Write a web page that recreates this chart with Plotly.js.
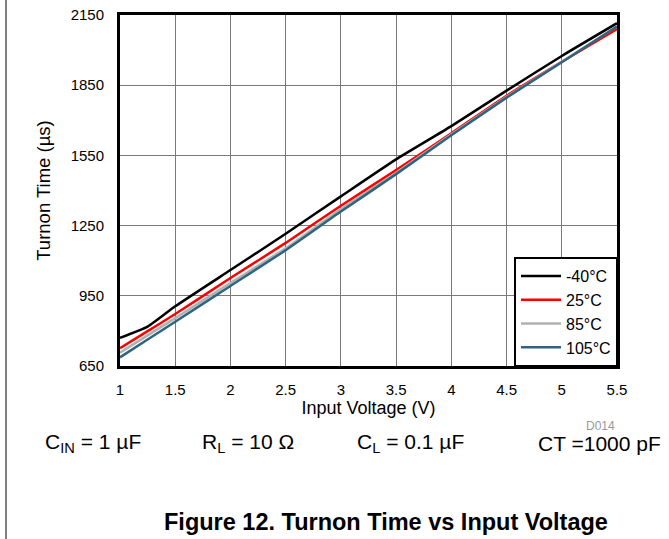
<!DOCTYPE html>
<html>
<head>
<meta charset="utf-8">
<script src="https://cdn.plot.ly/plotly-3.0.1.min.js"></script>
<style>html,body{margin:0;padding:0;background:#fff;}#chart{width:669px;height:539px;}</style>
</head>
<body>
<div id="chart"></div>
<script>
// Input voltage (V)
const voltage = [1, 1.25, 1.5, 2, 2.5, 3, 3.5, 4, 4.5, 5, 5.5];
// Turnon time (µs) per temperature
const tMinus40 = [770, 818, 905, 1060, 1215, 1375, 1533, 1675, 1827, 1975, 2115];
const t25      = [726, 799, 872, 1026, 1176, 1335, 1487, 1645, 1805, 1950, 2090];
const t85      = [707, 781, 854, 1005, 1153, 1320, 1476, 1640, 1800, 1950, 2102];
const t105     = [687, 763, 839, 992, 1145, 1310, 1470, 1636, 1797, 1948, 2101];
const seriesNames = ['-40°C', '25°C', '85°C', '105°C'];
const seriesColors = ['#000000', '#ff0000', '#b0b0b0', '#2e6480'];
const xTicks = [1, 1.5, 2, 2.5, 3, 3.5, 4, 4.5, 5, 5.5];
const yTicks = [650, 950, 1250, 1550, 1850, 2150];

const F = 'Liberation Sans, Arial, sans-serif';
const seriesData = [tMinus40, t25, t85, t105];
const traces = seriesData.map((ys, i) => ({
  x: voltage, y: ys, type: 'scatter', mode: 'lines', name: seriesNames[i],
  line: {color: seriesColors[i], width: 2.5, shape: 'spline', smoothing: 0.5}
}));

const W = 669, H = 539, L = 120, R = 52, T = 15, B = 173;
const pw = W - L - R, ph = H - T - B;
const px = v => (v - L) / pw;
const py = v => (H - B - v) / ph;

const layout = {
  width: W, height: H,
  margin: {l: L, r: R, t: T, b: B},
  paper_bgcolor: '#fff', plot_bgcolor: '#fff',
  font: {family: F, color: '#000', size: 15},
  showlegend: true,
  legend: {
    x: px(618), y: py(367), xanchor: 'right', yanchor: 'bottom',
    bgcolor: '#fff', bordercolor: '#000', borderwidth: 2,
    font: {family: F, size: 16, color: '#000'},
    itemwidth: 40, tracegroupgap: 0
  },
  xaxis: {
    range: [1, 5.5], tickvals: xTicks, ticktext: xTicks.map(String),
    showgrid: true, gridcolor: '#7a7a7a', gridwidth: 1,
    showline: true, linecolor: '#000', linewidth: 3, mirror: true,
    ticks: '', ticklabelstandoff: 8, zeroline: false,
    tickfont: {family: F, size: 15},
    title: {text: 'Input Voltage (V)', font: {family: F, size: 18}, standoff: 2}
  },
  yaxis: {
    range: [650, 2150], tickvals: yTicks, ticktext: yTicks.map(String),
    showgrid: true, gridcolor: '#7a7a7a', gridwidth: 1,
    showline: true, linecolor: '#000', linewidth: 3, mirror: true,
    ticks: '', ticklabelstandoff: 10, zeroline: false,
    tickfont: {family: F, size: 15},
    title: {text: 'Turnon Time (µs)', font: {family: F, size: 18.5}, standoff: 16}
  },
  shapes: [
    {type: 'line', xref: 'paper', yref: 'paper', x0: px(6), x1: px(6), y0: py(0), y1: py(H),
     line: {color: '#555', width: 1.5}}
  ],
  annotations: [
    {text: 'D014', xref: 'paper', yref: 'paper', x: px(617), y: py(426), xanchor: 'right', yanchor: 'middle',
     showarrow: false, font: {family: F, size: 12, color: '#999'}},
    {text: 'C<sub>IN</sub> = 1 µF', xref: 'paper', yref: 'paper', x: px(43), y: py(443), xanchor: 'left', yanchor: 'middle',
     showarrow: false, font: {family: F, size: 21}},
    {text: 'R<sub>L</sub> = 10 Ω', xref: 'paper', yref: 'paper', x: px(200), y: py(443), xanchor: 'left', yanchor: 'middle',
     showarrow: false, font: {family: F, size: 21}},
    {text: 'C<sub>L</sub> = 0.1 µF', xref: 'paper', yref: 'paper', x: px(355), y: py(443), xanchor: 'left', yanchor: 'middle',
     showarrow: false, font: {family: F, size: 21}},
    {text: 'CT =1000 pF', xref: 'paper', yref: 'paper', x: px(663), y: py(443), xanchor: 'right', yanchor: 'middle',
     showarrow: false, font: {family: F, size: 21}},
    {text: '<b>Figure 12. Turnon Time vs Input Voltage</b>', xref: 'paper', yref: 'paper', x: px(386), y: py(522),
     xanchor: 'center', yanchor: 'middle', showarrow: false, font: {family: F, size: 23.5}}
  ]
};

Plotly.newPlot('chart', traces, layout, {displayModeBar: false, staticPlot: true});
</script>
</body>
</html>
